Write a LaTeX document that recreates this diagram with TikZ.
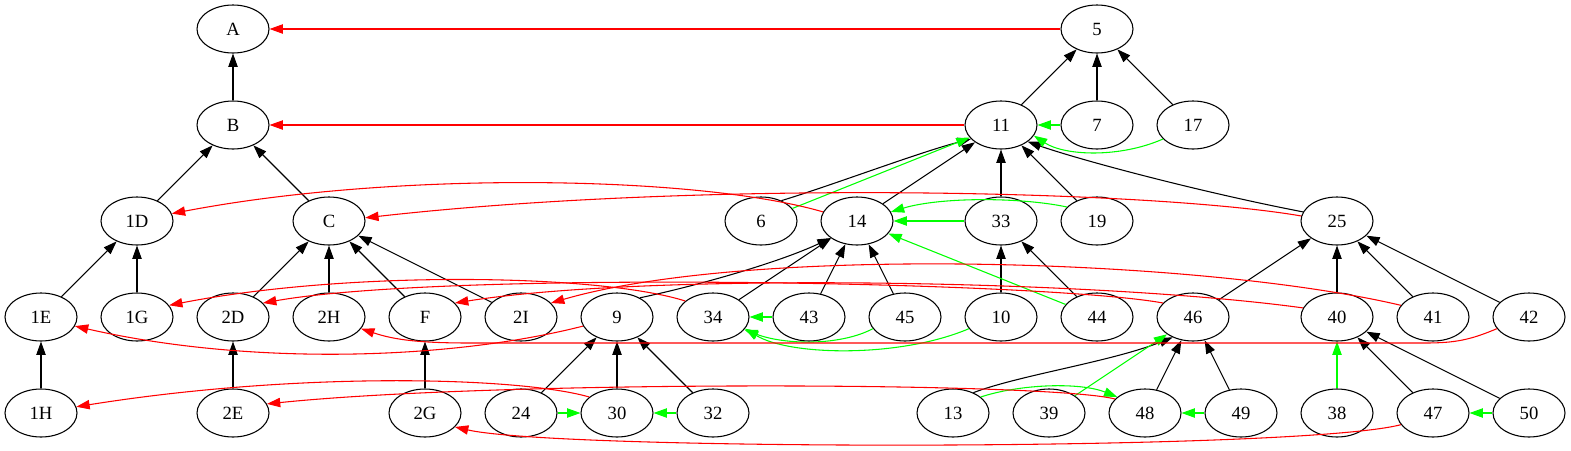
\documentclass[tikz,border=0pt]{standalone}
\usepackage{fontspec}
\setmainfont{Liberation Serif}
\usetikzlibrary{shapes.geometric,arrows.meta}
\definecolor{gvgreen}{RGB}{0,255,0}
\definecolor{gvred}{RGB}{255,0,0}
\begin{document}
\begin{tikzpicture}[x=0.75pt,y=-0.75pt,
  nd/.style={draw,ellipse,minimum width=54pt,minimum height=36pt,inner sep=0pt,line width=0.8pt,font=\fontsize{14}{16}\selectfont},
  ed/.style={line width=0.8pt,-{Triangle[length=10pt,width=7pt]}},
  bk/.style={ed,draw=black},
  gn/.style={ed,draw=gvgreen},
  rd/.style={ed,draw=gvred}]
\useasboundingbox (0,0) rectangle (1571,450);
% row 1
\node[nd] (nA) at (233,29) {A};
\node[nd] (n5) at (1097,29) {5};
% row 2
\node[nd] (nB) at (233,125) {B};
\node[nd] (n11) at (1001,125) {11};
\node[nd] (n7) at (1097,125) {7};
\node[nd] (n17) at (1193,125) {17};
% row 3
\node[nd] (n1D) at (137,221) {1D};
\node[nd] (nC) at (329,221) {C};
\node[nd] (n6) at (761,221) {6};
\node[nd] (n14) at (857,221) {14};
\node[nd] (n33) at (1001,221) {33};
\node[nd] (n19) at (1097,221) {19};
\node[nd] (n25) at (1337,221) {25};
% row 4
\node[nd] (n1E) at (41,317) {1E};
\node[nd] (n1G) at (137,317) {1G};
\node[nd] (n2D) at (233,317) {2D};
\node[nd] (n2H) at (329,317) {2H};
\node[nd] (nF) at (425,317) {F};
\node[nd] (n2I) at (521,317) {2I};
\node[nd] (n9) at (617,317) {9};
\node[nd] (n34) at (713,317) {34};
\node[nd] (n43) at (809,317) {43};
\node[nd] (n45) at (905,317) {45};
\node[nd] (n10) at (1001,317) {10};
\node[nd] (n44) at (1097,317) {44};
\node[nd] (n46) at (1193,317) {46};
\node[nd] (n40) at (1337,317) {40};
\node[nd] (n41) at (1433,317) {41};
\node[nd] (n42) at (1529,317) {42};
% row 5
\node[nd] (n1H) at (41,413) {1H};
\node[nd] (n2E) at (233,413) {2E};
\node[nd] (n2G) at (425,413) {2G};
\node[nd] (n24) at (521,413) {24};
\node[nd] (n30) at (617,413) {30};
\node[nd] (n32) at (713,413) {32};
\node[nd] (n13) at (953,413) {13};
\node[nd] (n39) at (1049,413) {39};
\node[nd] (n48) at (1145,413) {48};
\node[nd] (n49) at (1241,413) {49};
\node[nd] (n38) at (1337,413) {38};
\node[nd] (n47) at (1433,413) {47};
\node[nd] (n50) at (1529,413) {50};

% black tree edges
\draw[bk] (nB) -- (nA);
\draw[bk] (n1D) -- (nB);
\draw[bk] (nC) -- (nB);
\draw[bk] (n1E) -- (n1D);
\draw[bk] (n1G) -- (n1D);
\draw[bk] (n1H) -- (n1E);
\draw[bk] (n2D) -- (nC);
\draw[bk] (n2H) -- (nC);
\draw[bk] (nF) -- (nC);
\draw[bk] (n2I) -- (nC);
\draw[bk] (n2E) -- (n2D);
\draw[bk] (n2G) -- (nF);
\draw[bk] (n11) -- (n5);
\draw[bk] (n7) -- (n5);
\draw[bk] (n17) -- (n5);
\draw[bk] (n6.45) .. controls (830,186) and (920,152) .. (n11.205);
\draw[bk] (n14) -- (n11);
\draw[bk] (n33) -- (n11);
\draw[bk] (n19) -- (n11);
\draw[bk] (n25.165) .. controls (1200,192) and (1080,160) .. (n11.-32);
\draw[bk] (n9.40) .. controls (700,285) and (780,262) .. (n14.213);
\draw[bk] (n34) -- (n14);
\draw[bk] (n43) -- (n14);
\draw[bk] (n45) -- (n14);
\draw[bk] (n10) -- (n33);
\draw[bk] (n44) -- (n33);
\draw[bk] (n24) -- (n9);
\draw[bk] (n30) -- (n9);
\draw[bk] (n32) -- (n9);
\draw[bk] (n46) -- (n25);
\draw[bk] (n40) -- (n25);
\draw[bk] (n41) -- (n25);
\draw[bk] (n42) -- (n25);
\draw[bk] (n13.45) .. controls (1020,375) and (1110,362) .. (n46.225);
\draw[bk] (n48) -- (n46);
\draw[bk] (n49) -- (n46);
\draw[bk] (n47) -- (n40);
\draw[bk] (n50) -- (n40);

% green edges
\draw[gn] (n7) -- (n11);
\draw[gn] (n17.205) .. controls (1120,158) and (1065,156) .. (n11.-18);
\draw[gn] (n6) -- (n11);
\draw[gn] (n33) -- (n14);
\draw[gn] (n19.155) .. controls (1020,197) and (940,197) .. (n14.15);
\draw[gn] (n44) -- (n14);
\draw[gn] (n43) -- (n34);
\draw[gn] (n45.200) .. controls (840,346) and (785,345) .. (n34.-22);
\draw[gn] (n10.200) .. controls (900,358) and (790,356) .. (n34.-20);
\draw[gn] (n24) -- (n30);
\draw[gn] (n32) -- (n30);
\draw[gn] (n13.30) .. controls (1020,384) and (1080,382) .. (n48.150);
\draw[gn] (n39) -- (n46);
\draw[gn] (n49) -- (n48);
\draw[gn] (n38) -- (n40);
\draw[gn] (n50) -- (n47);

% red edges
\draw[rd] (n5) -- (nA);
\draw[rd] (n11) -- (nB);
\draw[rd] (n14.165) .. controls (700,176) and (400,170) .. (n1D.12);
\draw[rd] (n25.172) .. controls (1150,190) and (700,180) .. (nC.5);
\draw[rd] (n34.150) .. controls (600,274) and (350,270) .. (n1G.20);
\draw[rd] (n46.155) .. controls (1050,282) and (450,270) .. (n2D.25);
\draw[rd] (n40.165) .. controls (1100,280) and (650,272) .. (nF.25);
\draw[rd] (n41.160) .. controls (1200,258) and (750,245) .. (n2I.25);
\draw[rd] (n9.195) .. controls (450,360) and (250,366) .. (n1E.345);
\draw[rd] (n42.200) .. controls (1470,340) and (1455,343) .. (1425,343) -- (470,343) .. controls (420,343) and (395,340) .. (n2H.-20);
\draw[rd] (n30.150) .. controls (520,377) and (300,371) .. (n1H.10);
\draw[rd] (n48.155) .. controls (1050,382) and (500,380) .. (n2E.15);
\draw[rd] (n47.200) .. controls (1300,451) and (560,451) .. (n2G.335);
\end{tikzpicture}
\end{document}
